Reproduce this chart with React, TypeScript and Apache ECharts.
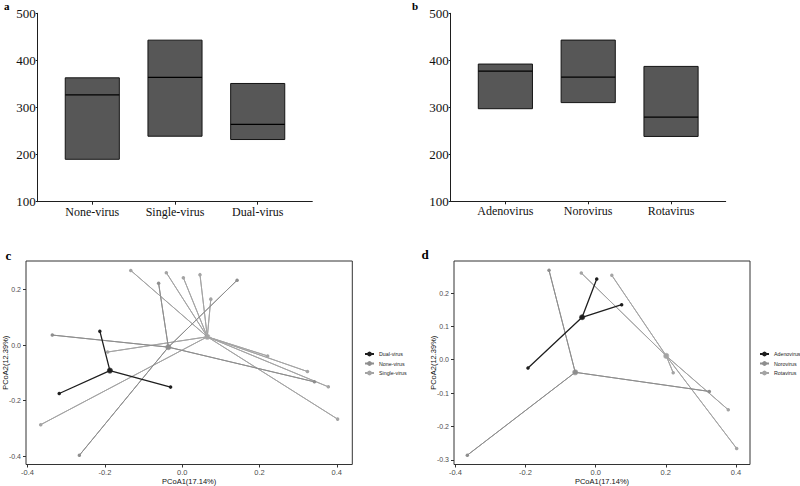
import React, { useEffect, useRef } from "react";
import * as echarts from "echarts";

// Panel a: value ranges (low / median / high) per infection group
const groupCats = ["None-virus", "Single-virus", "Dual-virus"];
const groupLow = [190, 239, 232];
const groupMedian = [327, 364, 264];
const groupHigh = [363, 443, 351];

// Panel b: value ranges per virus
const virusCats = ["Adenovirus", "Norovirus", "Rotavirus"];
const virusLow = [297, 310, 238];
const virusMedian = [377, 364, 279];
const virusHigh = [392, 443, 387];

const boxTicks = [1, 2, 3];

// PCoA sample coordinates [PCoA1, PCoA2]
const dualVirus = [
  [-0.213, 0.05],
  [-0.318, -0.174],
  [-0.03, -0.151],
];
const noneVirus = [
  [-0.061, 0.222],
  [-0.266, -0.396],
  [0.142, 0.233],
  [-0.336, 0.036],
  [0.342, -0.132],
];
const adenovirus = [
  [0.003, 0.242],
  [0.074, 0.165],
  [-0.193, -0.025],
];
const norovirus = [
  [-0.133, 0.268],
  [-0.366, -0.286],
  [0.324, -0.095],
];
const rotavirus = [
  [-0.041, 0.26],
  [0.046, 0.253],
  [0.221, -0.039],
  [0.378, -0.15],
  [0.402, -0.266],
];
const singleVirus = [...adenovirus, ...norovirus, ...rotavirus];

const pcoaXTicks = [-0.4, -0.2, 0, 0.2, 0.4];
const pcoaYTicksC = [-0.4, -0.2, 0, 0.2];
const pcoaYTicksD = [-0.3, -0.2, -0.1, 0, 0.1, 0.2];

const SERIF = '"Liberation Serif", "Times New Roman", serif';
const SANS = '"Liberation Sans", Arial, sans-serif';
const BOX_HALF = 0.327;

const DARK = "#1e1e1e";
const GRAY1 = "#8e8e8e";
const GRAY2 = "#a4a4a4";

function centroid(pts: number[][]) {
  const n = pts.length;
  let sx = 0;
  let sy = 0;
  pts.forEach((p) => {
    sx += p[0];
    sy += p[1];
  });
  return [sx / n, sy / n];
}

// centroid -> point -> centroid -> point ... draws the spokes as one polyline
function spokes(pts: number[][]) {
  const c = centroid(pts);
  const out: number[][] = [];
  pts.forEach((p) => {
    out.push(c, p);
  });
  out.push(c);
  return out;
}

function boxRender(params: any, api: any) {
  const x = api.value(0);
  const lo = api.value(1);
  const med = api.value(2);
  const hi = api.value(3);
  const tl = api.coord([x - BOX_HALF, hi]);
  const br = api.coord([x + BOX_HALF, lo]);
  const m1 = api.coord([x - BOX_HALF, med]);
  const m2 = api.coord([x + BOX_HALF, med]);
  return {
    type: "group",
    children: [
      {
        type: "rect",
        shape: { x: tl[0], y: tl[1], width: br[0] - tl[0], height: br[1] - tl[1] },
        style: { fill: "#575757", stroke: "#141414", lineWidth: 1 },
      },
      {
        type: "line",
        shape: { x1: m1[0], y1: m1[1], x2: m2[0], y2: m2[1] },
        style: { stroke: "#000", lineWidth: 1.2 },
      },
    ],
  };
}

function boxXAxis(gridIndex: number, cats: string[]) {
  return {
    type: "value",
    gridIndex,
    min: 0.34,
    max: 3.66,
    splitLine: { show: false },
    axisLine: { show: true, onZero: false, lineStyle: { color: DARK, width: 1 } },
    axisTick: {
      show: true,
      customValues: boxTicks,
      length: 3,
      lineStyle: { color: DARK },
    },
    axisLabel: {
      customValues: boxTicks,
      formatter: (v: number) => cats[Math.round(v) - 1] || "",
      fontFamily: SERIF,
      fontSize: 12,
      color: "#111",
      margin: 4,
    },
  };
}

function boxYAxis(gridIndex: number) {
  return {
    type: "value",
    gridIndex,
    min: 100,
    max: 500,
    interval: 100,
    splitLine: { show: false },
    axisLine: { show: true, onZero: false, lineStyle: { color: DARK, width: 1 } },
    axisTick: { show: true, length: 2, lineStyle: { color: DARK } },
    axisLabel: { fontFamily: SERIF, fontSize: 13, color: "#111", margin: 2 },
  };
}

function pcoaXAxis(gridIndex: number) {
  return {
    type: "value",
    gridIndex,
    min: -0.404,
    max: 0.44,
    splitLine: { show: false },
    axisLine: { show: false, onZero: false },
    axisTick: {
      show: true,
      customValues: pcoaXTicks,
      length: 3,
      lineStyle: { color: "#333" },
    },
    axisLabel: {
      customValues: pcoaXTicks,
      formatter: (v: number) => v.toFixed(1),
      fontFamily: SANS,
      fontSize: 7.5,
      color: "#4d4d4d",
      margin: 3.5,
    },
    name: "PCoA1(17.14%)",
    nameLocation: "middle",
    nameGap: 12.5,
    nameMoveOverlap: false,
    nameTextStyle: { fontFamily: SANS, fontSize: 7.5, color: "#111" },
  };
}

function pcoaYAxis(gridIndex: number, min: number, max: number, ticks: number[]) {
  return {
    type: "value",
    gridIndex,
    min,
    max,
    splitLine: { show: false },
    axisLine: { show: false, onZero: false },
    axisTick: {
      show: true,
      customValues: ticks,
      length: 3,
      lineStyle: { color: "#333" },
    },
    axisLabel: {
      customValues: ticks,
      formatter: (v: number) => v.toFixed(1),
      fontFamily: SANS,
      fontSize: 7,
      color: "#4d4d4d",
      margin: 5,
    },
    name: "PCoA2(12.39%)",
    nameLocation: "middle",
    nameGap: 17,
    nameRotate: 90,
    nameMoveOverlap: false,
    nameTextStyle: { fontFamily: SANS, fontSize: 7.5, color: "#111" },
  };
}

function spokeSeries(name: string, pts: number[][], color: string, width: number, axis: number) {
  return [
    {
      type: "line",
      name,
      xAxisIndex: axis,
      yAxisIndex: axis,
      data: spokes(pts),
      symbol: "circle",
      symbolSize: 3.5,
      showSymbol: true,
      lineStyle: { color, width },
      itemStyle: { color },
      silent: true,
      emphasis: { disabled: true },
    },
    {
      type: "scatter",
      name,
      xAxisIndex: axis,
      yAxisIndex: axis,
      data: [centroid(pts)],
      symbolSize: 6,
      itemStyle: { color },
      silent: true,
      emphasis: { disabled: true },
    },
  ];
}

function legendAt(left: number, names: string[]) {
  return {
    left,
    top: 351.5,
    orient: "vertical",
    selectedMode: false,
    padding: 0,
    itemWidth: 9,
    itemHeight: 6,
    itemGap: 4.5,
    textStyle: { fontFamily: SANS, fontSize: 5.3, color: "#222" },
    data: names,
  };
}

export default function App() {
  const ref = useRef<HTMLDivElement>(null);

  useEffect(() => {
    document.body.style.margin = "0";
    if (!ref.current) return;
    const chart = echarts.init(ref.current, undefined, { renderer: "svg" });

    const option: any = {
      animation: false,
      backgroundColor: "#fff",
      grid: [
        { left: 37.7, right: 487.7, top: 13.3, bottom: 284.3 },
        { left: 450.7, right: 74.3, top: 13.3, bottom: 284.7 },
        { left: 25.7, right: 447.7, top: 261, bottom: 20, show: true, borderColor: "#333", borderWidth: 1, backgroundColor: "transparent" },
        { left: 454, right: 50, top: 261, bottom: 20, show: true, borderColor: "#333", borderWidth: 1, backgroundColor: "transparent" },
      ],
      xAxis: [boxXAxis(0, groupCats), boxXAxis(1, virusCats), pcoaXAxis(2), pcoaXAxis(3)],
      yAxis: [
        boxYAxis(0),
        boxYAxis(1),
        pcoaYAxis(2, -0.429, 0.302, pcoaYTicksC),
        pcoaYAxis(3, -0.314, 0.296, pcoaYTicksD),
      ],
      legend: [
        legendAt(364, ["Dual-virus", "None-virus", "Single-virus"]),
        legendAt(759, ["Adenovirus", "Norovirus", "Rotavirus"]),
      ],
      series: [
        {
          type: "custom",
          xAxisIndex: 0,
          yAxisIndex: 0,
          renderItem: boxRender,
          encode: { x: 0, y: [1, 2, 3] },
          data: groupCats.map((_, i) => [boxTicks[i], groupLow[i], groupMedian[i], groupHigh[i]]),
          silent: true,
        },
        {
          type: "custom",
          xAxisIndex: 1,
          yAxisIndex: 1,
          renderItem: boxRender,
          encode: { x: 0, y: [1, 2, 3] },
          data: virusCats.map((_, i) => [boxTicks[i], virusLow[i], virusMedian[i], virusHigh[i]]),
          silent: true,
        },
        ...spokeSeries("Single-virus", singleVirus, GRAY2, 1, 2),
        ...spokeSeries("None-virus", noneVirus, GRAY1, 1, 2),
        ...spokeSeries("Dual-virus", dualVirus, DARK, 1.3, 2),
        ...spokeSeries("Rotavirus", rotavirus, GRAY2, 1, 3),
        ...spokeSeries("Norovirus", norovirus, GRAY1, 1, 3),
        ...spokeSeries("Adenovirus", adenovirus, DARK, 1.3, 3),
      ],
      graphic: [
        { type: "text", x: 6.7, y: 5.7, style: { text: "a", font: `bold 11px ${SERIF}`, fill: "#000", align: "center", verticalAlign: "middle" } },
        { type: "text", x: 415, y: 6, style: { text: "b", font: `bold 11px ${SERIF}`, fill: "#000", align: "center", verticalAlign: "middle" } },
        { type: "text", x: 8.3, y: 255, style: { text: "c", font: `bold 13px ${SERIF}`, fill: "#000", align: "center", verticalAlign: "middle" } },
        { type: "text", x: 425, y: 254, style: { text: "d", font: `bold 13px ${SERIF}`, fill: "#000", align: "center", verticalAlign: "middle" } },
      ],
    };

    chart.setOption(option);
    return () => chart.dispose();
  }, []);

  return <div ref={ref} style={{ position: "absolute", left: 0, top: 0, width: 800, height: 486 }} />;
}
